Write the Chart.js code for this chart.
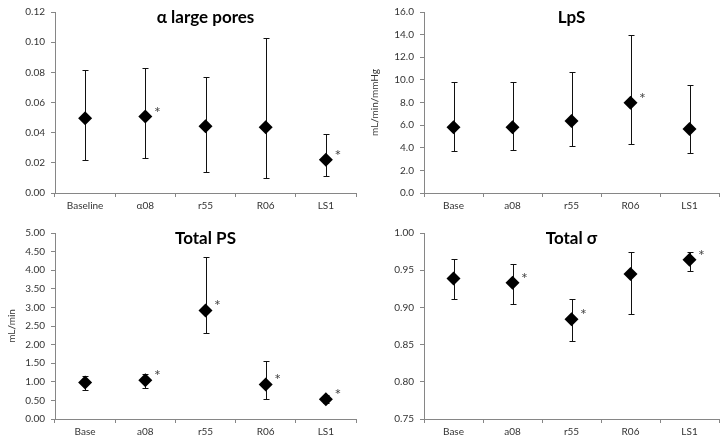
<!DOCTYPE html>
<html>
<head>
<meta charset="utf-8">
<script src="https://cdn.jsdelivr.net/npm/chart.js@4.4.0/dist/chart.umd.min.js"></script>
<style>
  body { margin: 0; background: #fff; }
  .panel { position: absolute; }
</style>
</head>
<body>
<div class="panel" style="left:0;top:0"><canvas id="c1" width="363" height="220"></canvas></div>
<div class="panel" style="left:363px;top:0"><canvas id="c2" width="363" height="220"></canvas></div>
<div class="panel" style="left:0;top:220px"><canvas id="c3" width="363" height="219"></canvas></div>
<div class="panel" style="left:363px;top:220px"><canvas id="c4" width="363" height="219"></canvas></div>
<script>
// categories
const poresLabels = ['Baseline', 'α08', 'r55', 'R06', 'LS1'];
const groupLabels = ['Base', 'a08', 'r55', 'R06', 'LS1'];

// alpha large pores
const poresMean = [0.0496, 0.0507, 0.0442, 0.0436, 0.0220];
const poresLow  = [0.0218, 0.0229, 0.0136, 0.0097, 0.0112];
const poresHigh = [0.0816, 0.0831, 0.0770, 0.1030, 0.0390];
const poresStar = [false, true, false, false, true];

// LpS
const lpsMean = [5.82, 5.82, 6.37, 7.97, 5.65];
const lpsLow  = [3.73, 3.76, 4.19, 4.30, 3.53];
const lpsHigh = [9.83, 9.83, 10.70, 13.94, 9.58];
const lpsStar = [false, false, false, true, false];

// Total PS
const psMean = [0.98, 1.04, 2.92, 0.93, 0.53];
const psLow  = [0.78, 0.83, 2.30, 0.53, 0.42];
const psHigh = [1.16, 1.21, 4.36, 1.57, 0.64];
const psStar = [false, true, true, true, true];

// Total sigma
const sigmaMean = [0.939, 0.933, 0.884, 0.945, 0.964];
const sigmaLow  = [0.911, 0.904, 0.855, 0.891, 0.949];
const sigmaHigh = [0.965, 0.958, 0.911, 0.975, 0.975];
const sigmaStar = [false, true, true, false, true];

const axisColor = '#868686';
const textColor = '#333';
const fontFamily = 'Lato, "Open Sans", sans-serif';

// error bars under the points, asterisks and the title on top
const panelPlugin = {
  id: 'panel',
  beforeDatasetsDraw(chart, args, opts) {
    const { ctx, scales: { x, y } } = chart;
    ctx.save();
    ctx.strokeStyle = '#111';
    ctx.lineWidth = 1;
    opts.low.forEach((lo, i) => {
      const px = Math.round(x.getPixelForValue(i)) + 0.5;
      const yl = Math.round(y.getPixelForValue(lo)) + 0.5;
      const yh = Math.round(y.getPixelForValue(opts.high[i])) + 0.5;
      ctx.beginPath();
      ctx.moveTo(px, yl); ctx.lineTo(px, yh);
      ctx.moveTo(px - 3, yl); ctx.lineTo(px + 3, yl);
      ctx.moveTo(px - 3, yh); ctx.lineTo(px + 3, yh);
      ctx.stroke();
    });
    ctx.restore();
  },
  afterDatasetsDraw(chart, args, opts) {
    const { ctx, chartArea } = chart;
    const meta = chart.getDatasetMeta(0);
    ctx.save();
    ctx.fillStyle = '#444';
    ctx.font = '16px ' + fontFamily;
    ctx.textAlign = 'center';
    ctx.textBaseline = 'alphabetic';
    opts.star.forEach((s, i) => {
      if (!s) return;
      const pt = meta.data[i];
      ctx.fillText('*', pt.x + 12, pt.y + 1);
    });
    ctx.fillStyle = '#000';
    ctx.font = 'bold 17px ' + fontFamily;
    ctx.fillText(opts.title, (chartArea.left + chartArea.right) / 2, chartArea.top + 11);
    ctx.restore();
  }
};

function makePanel(id, cfg) {
  new Chart(document.getElementById(id), {
    type: 'line',
    data: {
      labels: cfg.labels,
      datasets: [{
        data: cfg.mean,
        showLine: false,
        pointStyle: 'rectRot',
        pointRadius: 7,
        pointHoverRadius: 7,
        pointBackgroundColor: '#000',
        pointBorderColor: '#000',
        pointBorderWidth: 0
      }]
    },
    options: {
      responsive: false,
      animation: false,
      events: [],
      layout: { padding: { top: cfg.top, right: 5, left: 0, bottom: 0 } },
      scales: {
        x: {
          offset: true,
          grid: { offset: true, drawOnChartArea: false, tickLength: 4, color: axisColor },
          border: { color: axisColor },
          ticks: { color: textColor, font: { family: fontFamily, size: 10 }, padding: 3 },
          afterFit: s => { s.height = cfg.xHeight; }
        },
        y: {
          min: cfg.min,
          max: cfg.max,
          grid: { drawOnChartArea: false, tickLength: 4, color: axisColor },
          border: { color: axisColor },
          ticks: {
            stepSize: cfg.step,
            color: textColor,
            font: { family: fontFamily, size: 10 },
            padding: 6,
            callback: v => v.toFixed(cfg.decimals)
          },
          title: {
            display: !!cfg.yTitle,
            text: cfg.yTitle || '',
            color: textColor,
            font: { family: fontFamily, size: 10 },
            padding: { top: 6, bottom: 0 }
          },
          afterFit: s => { s.width = cfg.yWidth; }
        }
      },
      plugins: {
        legend: { display: false },
        tooltip: { enabled: false },
        panel: { low: cfg.low, high: cfg.high, star: cfg.star, title: cfg.title }
      }
    },
    plugins: [panelPlugin]
  });
}

makePanel('c1', {
  labels: poresLabels, mean: poresMean, low: poresLow, high: poresHigh, star: poresStar,
  title: 'α large pores', min: 0, max: 0.12, step: 0.02, decimals: 2,
  top: 7, xHeight: 27, yWidth: 55
});
makePanel('c2', {
  labels: groupLabels, mean: lpsMean, low: lpsLow, high: lpsHigh, star: lpsStar,
  title: 'LpS', min: 0, max: 16, step: 2, decimals: 1, yTitle: 'mL/min/mmHg',
  top: 7, xHeight: 27, yWidth: 61
});
makePanel('c3', {
  labels: groupLabels, mean: psMean, low: psLow, high: psHigh, star: psStar,
  title: 'Total PS', min: 0, max: 5, step: 0.5, decimals: 2, yTitle: 'mL/min',
  top: 13, xHeight: 20, yWidth: 55
});
makePanel('c4', {
  labels: groupLabels, mean: sigmaMean, low: sigmaLow, high: sigmaHigh, star: sigmaStar,
  title: 'Total σ', min: 0.75, max: 1.0, step: 0.05, decimals: 2,
  top: 13, xHeight: 20, yWidth: 61
});
</script>
</body>
</html>
